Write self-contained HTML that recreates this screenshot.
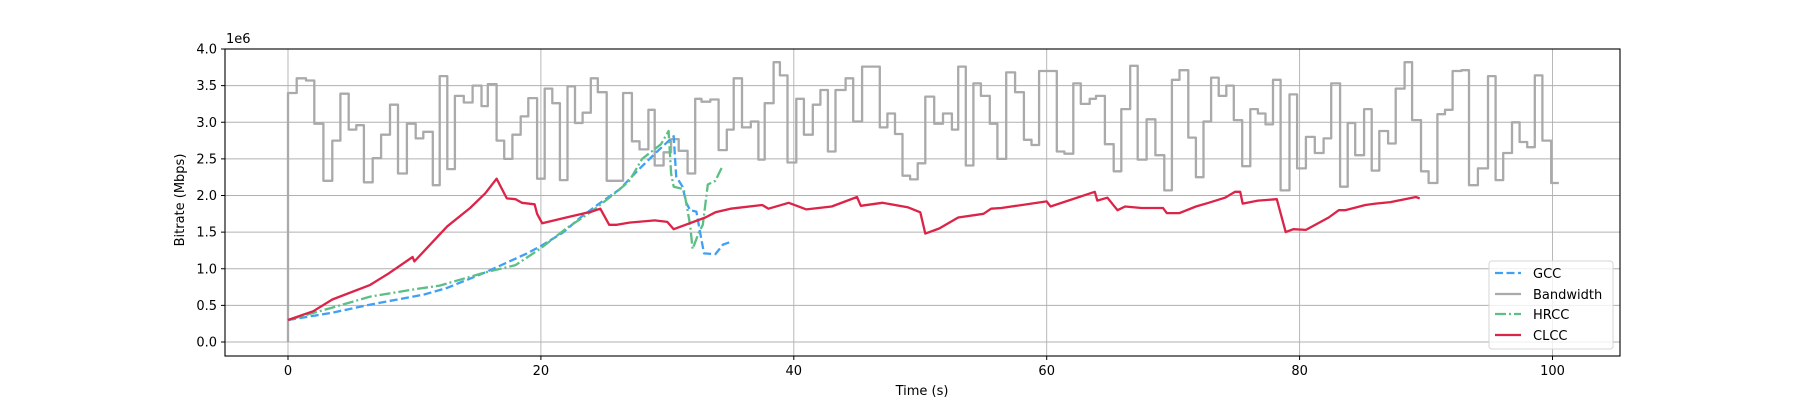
<!DOCTYPE html>
<html><head><meta charset="utf-8"><style>
html,body{margin:0;padding:0;background:#fff;}
svg{display:block;font-family:"DejaVu Sans","Liberation Sans",sans-serif;}
</style></head><body>
<svg id="chart" width="1800" height="400" viewBox="0 0 1800 400" xmlns="http://www.w3.org/2000/svg">
<rect width="1800" height="400" fill="#fff"/>
<g id="grid"></g>
<g id="series"></g>
<rect x="225" y="49" width="1395" height="307" fill="none" stroke="#000" stroke-width="1.1"/>
<g id="ticks" font-size="13" fill="#000"></g>
<text x="226" y="43" font-size="13">1e6</text>
<text x="922" y="395" font-size="13" text-anchor="middle">Time (s)</text>
<text transform="translate(184,200) rotate(-90)" font-size="13" text-anchor="middle">Bitrate (Mbps)</text>
<g>
<rect x="1489" y="261" width="124" height="88" rx="3" fill="#fff" fill-opacity="0.8" stroke="#d5d5d5"/>
<g><line x1="1495" y1="273" x2="1521" y2="273" stroke="#3fa0f5" stroke-width="2.3" stroke-dasharray="8,3.5"/><text x="1533" y="278" font-size="13">GCC</text></g>
<g><line x1="1495" y1="294" x2="1521" y2="294" stroke="#aaaaaa" stroke-width="2.3"/><text x="1533" y="299" font-size="13">Bandwidth</text></g>
<g><line x1="1495" y1="314" x2="1521" y2="314" stroke="#5cbf85" stroke-width="2.3" stroke-dasharray="11,3,2,3"/><text x="1533" y="319" font-size="13">HRCC</text></g>
<g><line x1="1495" y1="335" x2="1521" y2="335" stroke="#dc2348" stroke-width="2.3"/><text x="1533" y="340" font-size="13">CLCC</text></g>
</g>
</svg>
<script>
const xTicks = [0,20,40,60,80,100];
const yTicks = [0,0.5,1,1.5,2,2.5,3,3.5,4];
const yTickLabels = ["0.0","0.5","1.0","1.5","2.0","2.5","3.0","3.5","4.0"];
const bwT = [0,0,0.69,1.42,2.08,2.8,3.5,4.14,4.8,5.4,6.0,6.7,7.36,8.07,8.7,9.4,10.1,10.7,11.45,12.0,12.6,13.2,13.9,14.6,15.3,15.8,16.5,17.1,17.75,18.4,19.0,19.7,20.3,20.9,21.5,22.1,22.7,23.3,23.95,24.5,25.2,26.5,27.2,27.8,28.5,29.0,29.7,30.3,30.9,31.6,32.2,32.7,33.4,34.05,34.7,35.25,35.9,36.6,37.2,37.7,38.4,38.9,39.5,40.2,40.8,41.5,42.1,42.7,43.3,44.1,44.7,45.4,46.8,47.4,48.0,48.6,49.2,49.8,50.4,51.1,51.8,52.5,53.0,53.6,54.2,54.8,55.5,56.1,56.8,57.5,58.2,58.8,59.4,60.8,61.4,62.1,62.7,63.4,63.9,64.6,65.3,65.9,66.6,67.2,67.9,68.6,69.3,69.9,70.5,71.2,71.8,72.4,73.0,73.6,74.2,74.8,75.46,76.1,76.7,77.3,77.9,78.5,79.2,79.8,80.5,81.2,81.9,82.5,83.2,83.8,84.4,85.1,85.7,86.3,87.0,87.6,88.3,88.9,89.6,90.2,90.9,91.5,92.1,92.8,93.4,94.1,94.9,95.5,96.1,96.8,97.4,98.0,98.6,99.2,99.9,100.5];
const bwV = [0,3.40,3.60,3.57,2.98,2.20,2.75,3.39,2.90,2.96,2.18,2.51,2.83,3.24,2.30,2.98,2.78,2.87,2.14,3.63,2.36,3.36,3.27,3.50,3.22,3.52,2.75,2.50,2.83,3.08,3.33,2.23,3.46,3.26,2.21,3.49,2.99,3.13,3.60,3.41,2.20,3.40,2.74,2.63,3.17,2.41,2.59,2.77,2.61,2.30,3.32,3.28,3.31,2.62,2.90,3.60,2.93,3.01,2.49,3.26,3.82,3.64,2.45,3.32,2.83,3.24,3.44,2.60,3.44,3.60,3.01,3.76,2.93,3.12,2.84,2.27,2.22,2.44,3.35,2.98,3.12,2.90,3.76,2.41,3.53,3.36,2.98,2.50,3.68,3.41,2.76,2.69,3.70,2.60,2.57,3.53,3.25,3.32,3.36,2.70,2.33,3.18,3.77,2.49,3.04,2.55,2.07,3.58,3.71,2.79,2.25,3.01,3.61,3.36,3.50,3.03,2.40,3.18,3.12,2.97,3.58,2.07,3.38,2.37,2.80,2.58,2.78,3.53,2.12,2.99,2.55,3.18,2.34,2.88,2.71,3.46,3.82,3.03,2.33,2.17,3.11,3.17,3.70,3.71,2.14,2.37,3.63,2.21,2.58,3.00,2.73,2.66,3.64,2.75,2.17,2.17];
const gccT = [0,3.5,6.5,10.8,12.6,15.6,18.9,20,21.7,23.2,24.7,26.2,27.7,29.2,30.5,30.7,31.2,31.5,31.8,32.3,32.6,32.9,33.8,34.4,34.9];
const gccV = [0.30,0.40,0.51,0.65,0.74,0.95,1.21,1.31,1.49,1.71,1.90,2.08,2.35,2.60,2.81,2.26,2.12,1.90,1.80,1.78,1.49,1.21,1.20,1.33,1.36];
const hrccT = [0,3.5,6.5,10,12,15.6,18,20,22,24,26,27,28,29.5,30.1,30.3,30.5,31,31.3,31.8,32,32.5,32.8,33.2,33.8,34.3];
const hrccV = [0.30,0.47,0.62,0.72,0.77,0.95,1.05,1.28,1.55,1.78,2.05,2.20,2.50,2.70,2.88,2.30,2.12,2.10,2.08,1.60,1.27,1.50,1.60,2.15,2.20,2.38];
const clccT = [0,2,3.5,6.5,8,9.85,10.0,12.6,14.4,15.6,16.5,17.3,18,18.5,19.5,19.7,20.1,22,24,24.7,25.4,26,27,29,30,30.5,33,33.8,35,37.5,38,39.6,41,43,45,45.3,47,49,50,50.4,51.5,53,55,55.6,56.4,60,60.3,63.8,64.0,64.8,65.6,66.2,67.5,69.2,69.5,70.5,71.8,72.8,74.1,74.9,75.3,75.5,76.7,78.2,78.9,79.5,80.5,82.3,83.1,83.6,85.2,86,87.2,89.2,89.5];
const clccV = [0.30,0.42,0.58,0.78,0.94,1.16,1.10,1.58,1.83,2.03,2.23,1.96,1.95,1.90,1.88,1.75,1.62,1.70,1.78,1.82,1.60,1.60,1.63,1.66,1.64,1.54,1.70,1.77,1.82,1.87,1.82,1.90,1.81,1.85,1.98,1.86,1.90,1.84,1.77,1.48,1.55,1.70,1.75,1.82,1.83,1.92,1.85,2.05,1.93,1.97,1.80,1.85,1.83,1.83,1.76,1.76,1.85,1.90,1.97,2.05,2.05,1.89,1.93,1.95,1.50,1.54,1.53,1.70,1.80,1.80,1.87,1.89,1.91,1.98,1.96];

const NS = "http://www.w3.org/2000/svg";
const X0 = 288, XS = 12.645, Y0 = 342, YS = 73.25;
function xs(t){ return X0 + t*XS; }
function ys(v){ return Y0 - v*YS; }

const grid = document.getElementById('grid');
const ticks = document.getElementById('ticks');
const series = document.getElementById('series');

xTicks.forEach(function(t){
  const g = document.createElementNS(NS,'line');
  
  
  g.setAttribute('x1',xs(t)); g.setAttribute('x2',xs(t)); g.setAttribute('y1',49); g.setAttribute('y2',356);
  g.setAttribute('stroke','#b0b0b0'); g.setAttribute('stroke-width','0.9');
  grid.appendChild(g);
  const tk = document.createElementNS(NS,'line');
  
  
  tk.setAttribute('x1',xs(t)); tk.setAttribute('x2',xs(t)); tk.setAttribute('y1',356); tk.setAttribute('y2',360);
  tk.setAttribute('stroke','#000');
  ticks.appendChild(tk);
  const tx = document.createElementNS(NS,'text');
  
  
  tx.setAttribute('x',xs(t)); tx.setAttribute('y',375); tx.setAttribute('text-anchor','middle');
  tx.textContent = String(t);
  ticks.appendChild(tx);
});
yTicks.forEach(function(v,i){
  const g = document.createElementNS(NS,'line');
  
  
  g.setAttribute('x1',225); g.setAttribute('x2',1620); g.setAttribute('y1',ys(v)); g.setAttribute('y2',ys(v));
  g.setAttribute('stroke','#b0b0b0'); g.setAttribute('stroke-width','0.9');
  grid.appendChild(g);
  const tk = document.createElementNS(NS,'line');
  
  
  tk.setAttribute('x1',221); tk.setAttribute('x2',225); tk.setAttribute('y1',ys(v)); tk.setAttribute('y2',ys(v));
  tk.setAttribute('stroke','#000');
  ticks.appendChild(tk);
  const tx = document.createElementNS(NS,'text');
  
  
  tx.setAttribute('x',217); tx.setAttribute('y',ys(v)+4.5); tx.setAttribute('text-anchor','end');
  tx.textContent = yTickLabels[i];
  ticks.appendChild(tx);
});

function addPath(d, color, dash, name){
  const p = document.createElementNS(NS,'path');
  
  
  p.setAttribute('d', d);
  p.setAttribute('fill','none');
  p.setAttribute('stroke', color);
  p.setAttribute('stroke-width','2.3');
  p.setAttribute('stroke-linejoin','round');
  if (dash) p.setAttribute('stroke-dasharray', dash);
  series.appendChild(p);
}
function lineD(T,V){
  let d='';
  for (let i=0;i<Math.min(T.length,V.length);i++) d += (i?'L':'M') + xs(T[i]).toFixed(1) + ',' + ys(V[i]).toFixed(1);
  return d;
}
let bd = 'M' + xs(bwT[0]).toFixed(1) + ',' + ys(bwV[0]).toFixed(1);
for (let i=1;i<bwT.length;i++){
  bd += 'L' + xs(bwT[i]).toFixed(1) + ',' + ys(bwV[i-1]).toFixed(1);
  bd += 'L' + xs(bwT[i]).toFixed(1) + ',' + ys(bwV[i]).toFixed(1);
}
addPath(bd,'#aaaaaa',null,'bandwidth-line');
addPath(lineD(gccT,gccV),'#3fa0f5','8,3.5','gcc-line');
addPath(lineD(hrccT,hrccV),'#5cbf85','11,3,2,3','hrcc-line');
addPath(lineD(clccT,clccV),'#dc2348',null,'clcc-line');
</script>
</body></html>
